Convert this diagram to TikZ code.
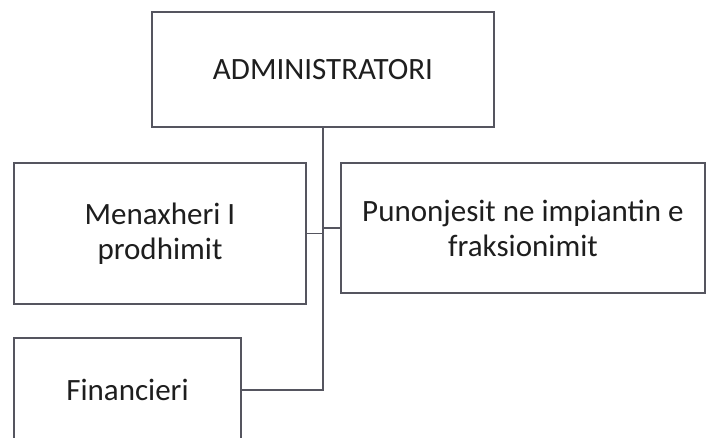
\documentclass[tikz,border=0pt]{standalone}
\usepackage{fontspec}
\setmainfont{Carlito}
\definecolor{linec}{RGB}{85,85,95}
\definecolor{textc}{RGB}{30,30,30}
\begin{document}
\begin{tikzpicture}[x=1pt,y=-1pt,
  box/.style={draw=linec, line width=1.4pt, inner sep=0pt, align=center,
    text=textc, font=\fontsize{31}{35}\selectfont},
  conn/.style={draw=linec, line width=1.4pt}]
\useasboundingbox[fill=white] (0,0) rectangle (708,437);
\node[box, minimum width=342pt, minimum height=115pt] (adm) at (323,69.5) {ADMINISTRATORI};
\node[box, minimum width=292pt, minimum height=141pt] (men) at (160,233.5) {Menaxheri I\\prodhimit};
\node[box, minimum width=364pt, minimum height=130pt] (pun) at (523,228) {Punonjesit ne impiantin e\\fraksionimit};
\node[box, minimum width=227pt, minimum height=104pt] (fin) at (127.5,390) {Financieri};
\draw[conn] (adm.south) -- (adm.south |- fin.east) -- (fin.east);
\draw[conn] (men.east) -- (men.east -| adm.south);
\draw[conn] (pun.west) -- (pun.west -| adm.south);
\end{tikzpicture}
\end{document}
